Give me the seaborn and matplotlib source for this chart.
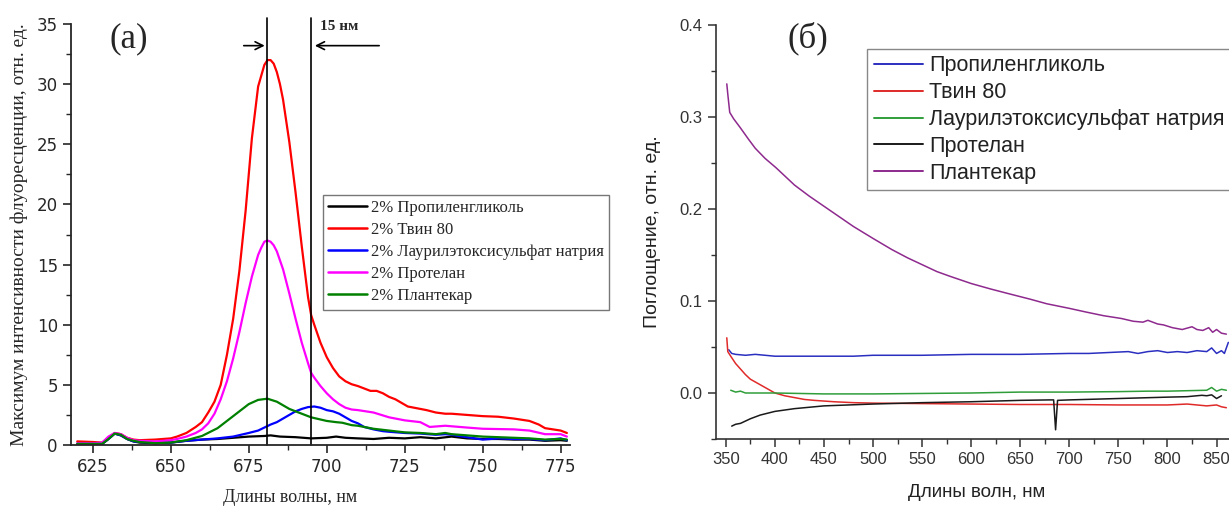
import pandas as pd
import matplotlib.pyplot as plt
import seaborn as sns
from matplotlib.ticker import MultipleLocator

# (a) fluorescence spectra, 2% surfactants
pg_x = [620, 625, 628, 630, 632, 634, 636, 638, 640, 645, 650, 655, 660, 665, 670, 675, 680, 682, 685, 690,
        695, 700, 703, 706, 710, 715, 720, 725, 730, 735, 740, 745, 750, 755, 760, 765, 770, 775, 777]
pg_y = [0.1, 0.1, 0.1, 0.5, 0.95, 0.8, 0.5, 0.3, 0.2, 0.15, 0.2, 0.35, 0.45, 0.5, 0.6, 0.7, 0.75, 0.8, 0.7, 0.65,
        0.55, 0.6, 0.7, 0.6, 0.55, 0.5, 0.6, 0.55, 0.65, 0.55, 0.7, 0.55, 0.5, 0.5, 0.45, 0.45, 0.35, 0.4, 0.35]

tw_x = [620, 625, 628, 630, 632, 634, 636, 638, 640, 645, 650, 652, 655, 658, 660, 662, 664, 666, 668, 670,
        672, 674, 676, 678, 680, 681, 682, 683, 684, 685, 686, 688, 690, 692, 694, 695, 696, 698, 700, 702,
        704, 706, 708, 710, 712, 714, 716, 718, 720, 722, 724, 726, 728, 730, 732, 735, 738, 740, 745, 750,
        755, 760, 765, 768, 770, 775, 777]
tw_y = [0.3, 0.25, 0.2, 0.6, 1.0, 0.9, 0.6, 0.45, 0.4, 0.45, 0.55, 0.7, 1.0, 1.5, 1.9, 2.7, 3.6, 5.0, 7.5, 10.5,
        14.5, 19.5, 25.5, 29.8, 31.6, 32.0, 32.0, 31.7, 31.0, 30.0, 28.7, 25.2, 21.0, 16.5, 12.3, 10.8, 10.0, 8.5,
        7.3, 6.4, 5.7, 5.3, 5.05, 4.9, 4.7, 4.5, 4.5, 4.3, 4.0, 3.8, 3.5, 3.2, 3.1, 3.0, 2.9, 2.7, 2.6, 2.6, 2.5,
        2.4, 2.35, 2.2, 2.0, 1.7, 1.4, 1.2, 1.0]

ls_x = [620, 625, 628, 630, 632, 634, 636, 638, 640, 645, 650, 655, 660, 665, 670, 675, 678, 680, 682, 684,
        686, 688, 690, 692, 694, 696, 698, 700, 702, 704, 706, 708, 710, 712, 715, 718, 720, 725, 730, 735,
        738, 740, 745, 750, 755, 760, 765, 770, 775, 777]
ls_y = [0.1, 0.1, 0.1, 0.5, 0.95, 0.8, 0.5, 0.3, 0.25, 0.2, 0.2, 0.35, 0.45, 0.55, 0.7, 1.0, 1.2, 1.45, 1.7, 1.9,
        2.2, 2.5, 2.8, 3.0, 3.15, 3.2, 3.1, 2.9, 2.8, 2.6, 2.3, 2.0, 1.8, 1.5, 1.3, 1.15, 1.1, 1.0, 0.95, 0.85,
        0.9, 0.85, 0.65, 0.45, 0.55, 0.5, 0.5, 0.4, 0.55, 0.4]

pr_x = [620, 625, 628, 630, 632, 634, 636, 638, 640, 645, 650, 652, 655, 658, 660, 662, 664, 666, 668, 670,
        672, 674, 676, 678, 679, 680, 681, 682, 683, 684, 686, 688, 690, 692, 694, 695, 696, 698, 700, 702,
        704, 706, 708, 710, 715, 720, 725, 730, 733, 738, 745, 750, 760, 765, 770, 775, 777]
pr_y = [0.15, 0.15, 0.2, 0.7, 1.0, 0.9, 0.6, 0.4, 0.35, 0.3, 0.4, 0.5, 0.7, 1.0, 1.3, 1.8, 2.6, 3.8, 5.3, 7.2,
        9.4, 11.8, 14.0, 15.8, 16.4, 16.9, 17.0, 16.9, 16.6, 16.1, 14.6, 12.6, 10.5, 8.5, 6.8, 6.0, 5.6, 4.9, 4.3,
        3.8, 3.4, 3.1, 2.95, 2.9, 2.7, 2.3, 2.05, 1.9, 1.5, 1.6, 1.45, 1.35, 1.3, 1.2, 0.9, 0.9, 0.7]

pl_x = [620, 625, 628, 630, 632, 634, 636, 638, 640, 645, 650, 655, 660, 665, 670, 675, 678, 681, 684, 686,
        688, 690, 692, 695, 700, 703, 705, 708, 710, 715, 720, 725, 730, 735, 738, 740, 745, 750, 755, 760,
        765, 770, 775, 777]
pl_y = [0.1, 0.1, 0.1, 0.5, 0.95, 0.85, 0.5, 0.35, 0.25, 0.15, 0.2, 0.4, 0.75, 1.4, 2.4, 3.4, 3.75, 3.85, 3.6, 3.3,
        3.0, 2.8, 2.6, 2.3, 2.0, 1.9, 1.85, 1.65, 1.6, 1.35, 1.2, 1.05, 1.0, 0.9, 1.0, 0.9, 0.8, 0.7, 0.65, 0.6,
        0.55, 0.45, 0.5, 0.45]

labels_a = ['2% Пропиленгликоль', '2% Твин 80', '2% Лаурилэтоксисульфат натрия', '2% Протелан', '2% Плантекар']
colors_a = ['#000000', '#ff0000', '#0000ff', '#ff00ff', '#008000']
peak_lines = [681, 695]

# (б) absorption spectra
abs_pg_x = [353, 356, 360, 370, 380, 390, 400, 420, 440, 460, 480, 500, 550, 600, 650, 700, 720, 740, 760, 770,
            780, 790, 800, 810, 820, 830, 840, 845, 850, 855, 858, 862]
abs_pg_y = [0.047, 0.043, 0.042, 0.041, 0.042, 0.041, 0.040, 0.040, 0.040, 0.040, 0.040, 0.041, 0.041, 0.042,
            0.042, 0.043, 0.043, 0.044, 0.045, 0.043, 0.045, 0.046, 0.044, 0.045, 0.044, 0.046, 0.045, 0.049,
            0.043, 0.046, 0.043, 0.055]

abs_tw_x = [351, 352, 355, 360, 365, 370, 375, 380, 385, 390, 395, 400, 410, 420, 430, 440, 460, 480, 500, 550,
            600, 650, 700, 750, 800, 820, 840, 850, 855, 860]
abs_tw_y = [0.060, 0.045, 0.040, 0.032, 0.026, 0.020, 0.015, 0.012, 0.009, 0.006, 0.003, 0.000, -0.003, -0.005,
            -0.007, -0.008, -0.0095, -0.0105, -0.011, -0.0115, -0.012, -0.0125, -0.0125, -0.013, -0.013, -0.012,
            -0.014, -0.013, -0.015, -0.016]

abs_ls_x = [355, 360, 365, 370, 380, 400, 450, 500, 550, 600, 650, 700, 750, 780, 800, 820, 840, 845, 850, 855, 860]
abs_ls_y = [0.003, 0.001, 0.002, 0.000, 0.000, 0.000, -0.001, -0.001, -0.0005, 0.0, 0.001, 0.001, 0.0015, 0.002,
            0.002, 0.0025, 0.003, 0.006, 0.002, 0.004, 0.003]

abs_pr_x = [356, 360, 365, 375, 385, 400, 420, 450, 500, 550, 600, 650, 680, 684, 686, 688, 700, 750, 800, 820,
            835, 840, 845, 850, 855]
abs_pr_y = [-0.036, -0.034, -0.033, -0.028, -0.024, -0.020, -0.017, -0.014, -0.012, -0.0105, -0.0095, -0.008,
            -0.0075, -0.0075, -0.040, -0.008, -0.0075, -0.006, -0.0045, -0.004, -0.0025, -0.003, -0.002, -0.006,
            -0.003]

abs_pl_x = [351, 352, 354, 358, 365, 373, 380, 390, 401, 410, 420, 435, 450, 465, 480, 500, 519, 535, 551, 565,
            578, 600, 620, 638, 660, 677, 700, 717, 735, 753, 765, 775, 780, 790, 796, 805, 815, 825, 830, 836,
            842, 846, 850, 855, 860]
abs_pl_y = [0.336, 0.325, 0.305, 0.298, 0.288, 0.276, 0.266, 0.255, 0.245, 0.236, 0.226, 0.214, 0.203, 0.192,
            0.181, 0.168, 0.156, 0.147, 0.139, 0.132, 0.127, 0.119, 0.113, 0.108, 0.102, 0.097, 0.092, 0.088,
            0.084, 0.081, 0.078, 0.077, 0.079, 0.075, 0.074, 0.071, 0.069, 0.072, 0.069, 0.068, 0.071, 0.066,
            0.069, 0.065, 0.064]

labels_b = ['Пропиленгликоль', 'Твин 80', 'Лаурилэтоксисульфат натрия', 'Протелан', 'Плантекар']
colors_b = ['#2b2fc0', '#e02a2a', '#2f9e3a', '#1a1a1a', '#8e2a8e']


def long_df(xs, ys, names):
    parts = [pd.DataFrame({'x': x, 'y': y, 'name': n}) for x, y, n in zip(xs, ys, names)]
    return pd.concat(parts, ignore_index=True)


df_a = long_df([pg_x, tw_x, ls_x, pr_x, pl_x], [pg_y, tw_y, ls_y, pr_y, pl_y], labels_a)
df_b = long_df([abs_pg_x, abs_tw_x, abs_ls_x, abs_pr_x, abs_pl_x],
               [abs_pg_y, abs_tw_y, abs_ls_y, abs_pr_y, abs_pl_y], labels_b)

sns.set_style('ticks')
plt.rcParams['font.family'] = ['Liberation Sans', 'DejaVu Sans']
serif = ['Liberation Serif', 'DejaVu Serif']

fig = plt.figure(figsize=(12.29, 5.07), dpi=100)
ax1 = fig.add_axes([71 / 1229, 62 / 507, 499 / 1229, 421 / 507])
ax2 = fig.add_axes([716 / 1229, 68 / 507, 530 / 1229, 414 / 507])

# ---- panel (a)
sns.lineplot(data=df_a, x='x', y='y', hue='name', hue_order=labels_a, palette=colors_a,
             linewidth=1.6, ax=ax1, legend=False)
ax1.set_xlim(618, 778)
ax1.set_ylim(0, 35)
ax1.xaxis.set_major_locator(MultipleLocator(25))
ax1.xaxis.set_minor_locator(MultipleLocator(12.5))
ax1.yaxis.set_major_locator(MultipleLocator(5))
ax1.yaxis.set_minor_locator(MultipleLocator(2.5))
for wl in peak_lines:
    ax1.axvline(wl, ymin=0, ymax=35.5 / 35, color='k', lw=1.2, clip_on=False)
ax1.annotate('', xy=(peak_lines[0], 33.2), xytext=(672.5, 33.2),
             arrowprops=dict(arrowstyle='->', lw=1.2, color='k', mutation_scale=14))
ax1.annotate('', xy=(peak_lines[1] + 0.3, 33.2), xytext=(717.7, 33.2),
             arrowprops=dict(arrowstyle='->', lw=1.2, color='k', mutation_scale=14))
ax1.text(697.8, 34.8, '15 нм', family=serif, fontsize=11, fontweight='bold', va='center', ha='left')
ax1.text(0.116, 0.966, '(a)', transform=ax1.transAxes, family=serif, fontsize=25, ha='center', va='center')
ax1.set_xlabel('Длины волны, нм', family=serif, fontsize=13)
ax1.set_ylabel('Максимум интенсивности флуоресценции, отн. ед.', family=serif, fontsize=14)
ax1.xaxis.set_label_coords(0.44, -0.124)
ax1.xaxis.label.set_verticalalignment('center')
ax1.yaxis.set_label_coords(-0.104, 0.5)
ax1.yaxis.label.set_verticalalignment('center')
ax1.tick_params(which='major', length=6, width=1.2, labelsize=12, direction='out')
ax1.tick_params(which='minor', length=3.5, width=1.0, direction='out')
for lab in ax1.get_xticklabels() + ax1.get_yticklabels():
    lab.set_family('DejaVu Sans')
for side in ['left', 'bottom']:
    ax1.spines[side].set_linewidth(1.3)
sns.despine(ax=ax1)
handles_a = [plt.Line2D([], [], color=c, lw=1.8) for c in colors_a]
leg1 = ax1.legend(handles_a, labels_a, loc='upper left', bbox_to_anchor=(0.505, 0.594),
                  prop={'family': serif, 'size': 12}, frameon=True, fancybox=False,
                  edgecolor='#777777', framealpha=1, borderpad=0.32, labelspacing=0.36,
                  handlelength=2.3, handletextpad=0.25, borderaxespad=0)
leg1.get_frame().set_linewidth(1.0)

# ---- panel (б)
sns.lineplot(data=df_b, x='x', y='y', hue='name', hue_order=labels_b, palette=colors_b,
             linewidth=1.1, ax=ax2, legend=False)
ax2.set_xlim(340, 880)
ax2.set_ylim(-0.05, 0.4)
ax2.xaxis.set_major_locator(MultipleLocator(50))
ax2.xaxis.set_minor_locator(MultipleLocator(25))
ax2.yaxis.set_major_locator(MultipleLocator(0.1))
ax2.yaxis.set_minor_locator(MultipleLocator(0.05))
ax2.yaxis.set_major_formatter(plt.FuncFormatter(lambda v, p: f'{v:.1f}'))
ax2.text(0.174, 0.967, '(б)', transform=ax2.transAxes, family=serif, fontsize=25, ha='center', va='center')
ax2.set_xlabel('Длины волн, нм', fontsize=13.5, color='#222222')
ax2.set_ylabel('Поглощение, отн. ед.', fontsize=14, color='#222222')
ax2.xaxis.set_label_coords(0.492, -0.130)
ax2.xaxis.label.set_verticalalignment('center')
ax2.yaxis.set_label_coords(-0.119, 0.5)
ax2.yaxis.label.set_verticalalignment('center')
ax2.tick_params(which='major', length=6, width=1.1, labelsize=12, direction='out',
                color='#333333', labelcolor='#333333')
ax2.tick_params(which='minor', length=3.5, width=1.0, direction='out', color='#333333')
for side in ['left', 'bottom']:
    ax2.spines[side].set_linewidth(1.2)
    ax2.spines[side].set_color('#333333')
sns.despine(ax=ax2)
handles_b = [plt.Line2D([], [], color=c, lw=1.4) for c in colors_b]
leg2 = ax2.legend(handles_b, labels_b, loc='upper left', bbox_to_anchor=(0.285, 0.942),
                  prop={'size': 15.5}, frameon=True, fancybox=False, edgecolor='#888888',
                  framealpha=1, borderpad=0.3, labelspacing=0.27, handlelength=2.3,
                  handletextpad=0.3, borderaxespad=0)
for t in leg2.get_texts():
    t.set_color('#222222')
leg2.get_frame().set_linewidth(1.0)

fig.savefig('out.png', dpi=100)
